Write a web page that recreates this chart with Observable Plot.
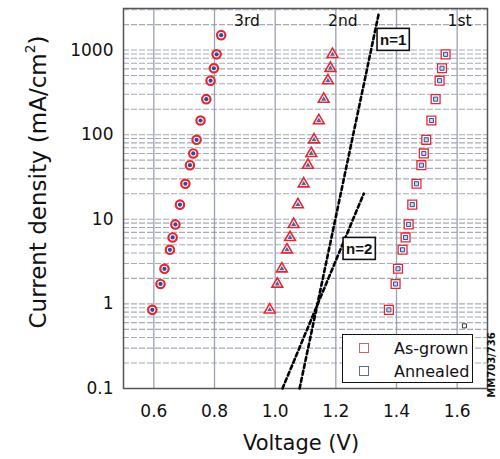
<!DOCTYPE html>
<html>
<head>
<meta charset="utf-8">
<script src="https://cdn.jsdelivr.net/npm/d3@7"></script>
<script src="https://cdn.jsdelivr.net/npm/@observablehq/plot@0.6"></script>
<style>
  body { margin: 0; background: #fff; }
  #wrap { position: relative; width: 500px; height: 459px; font-family: "DejaVu Sans", sans-serif; color: #111; }
  .ov { position: absolute; white-space: nowrap; line-height: 1; }
  #ytitle { left: 37px; top: 182px; font-size: 23px; transform: translate(-50%, -50%) rotate(-90deg); }
  #ytitle sup { font-size: 0.6em; vertical-align: 0.75em; }
  #xtitle { left: 301px; top: 443px; font-size: 21px; transform: translate(-50%, -50%); }
  #legend { left: 342px; top: 334px; width: 131px; height: 49px; border: 1.3px solid #111; background: #fff; box-sizing: border-box; }
  .lgsw { position: absolute; left: 16px; width: 10px; height: 10px; box-sizing: border-box; }
  .lgtx { position: absolute; left: 51px; font-size: 16px; transform: translateY(-50%); }
  #mm { left: 492px; top: 365px; font-size: 10px; font-weight: bold; transform: translate(-50%, -50%) rotate(-90deg); }
</style>
</head>
<body>
<div id="wrap"></div>
<script>
// ---- data ----
// 3rd sweep (circles)
const volts3 = [0.822, 0.807, 0.798, 0.787, 0.773, 0.754, 0.741, 0.730, 0.719, 0.704, 0.686, 0.671, 0.662, 0.653, 0.635, 0.622, 0.595];
const currents3 = [1500, 890, 610, 435, 263, 147, 87, 60, 43.6, 26.3, 14.9, 8.7, 6.1, 4.36, 2.6, 1.72, 0.85];
// 2nd sweep (triangles)
const volts2 = [1.189, 1.182, 1.174, 1.160, 1.144, 1.128, 1.119, 1.108, 1.094, 1.075, 1.061, 1.049, 1.039, 1.022, 1.007, 0.982];
const currents2 = [890, 610, 435, 263, 147, 87, 60, 43.6, 26.3, 14.9, 8.7, 6.1, 4.36, 2.6, 1.72, 0.85];
// 1st sweep (squares)
const volts1 = [1.562, 1.550, 1.542, 1.529, 1.515, 1.498, 1.490, 1.482, 1.466, 1.452, 1.440, 1.430, 1.420, 1.405, 1.397, 1.375];
const currents1 = [890, 610, 435, 263, 147, 87, 60, 43.6, 26.3, 14.9, 8.7, 6.1, 4.36, 2.6, 1.72, 0.85];
// stray annealed point
const extraVolts = [1.624];
const extraCurrents = [0.55];

// ideality reference lines
const idealityNames = ["n=1", "n=2"];
const idealityVolts = [[1.0805, 1.3426], [1.0241, 1.292]];
const idealityCurrents = [[0.1, 2820], [0.1, 20.1]];
const idealityLabelVolts = [1.389, 1.277];
const idealityLabelCurrents = [1313, 4.44];

// sweep labels
const sweepNames = ["3rd", "2nd", "1st"];
const sweepLabelVolts = [0.907, 1.223, 1.608];
const sweepLabelCurrents = [2200, 2200, 2200];

// axes
const xTicks = [0.6, 0.8, 1.0, 1.2, 1.4, 1.6];
const yTicks = [0.1, 1, 10, 100, 1000];
const gridMultipliers = [1, 2, 3, 4, 5, 6, 7, 8, 9];

// ---- build tables ----
const rows = (vs, js) => vs.map((v, i) => ({v, j: js[i]}));
const d3rd = rows(volts3, currents3);
const d2nd = rows(volts2, currents2);
const d1st = rows(volts1, currents1);
const dExtra = rows(extraVolts, extraCurrents);
const lineRows = idealityNames.flatMap((n, k) => idealityVolts[k].map((v, i) => ({n, v, j: idealityCurrents[k][i]})));
const nLabels = idealityNames.map((n, k) => ({n, v: idealityLabelVolts[k], j: idealityLabelCurrents[k]}));
const sLabels = sweepNames.map((n, k) => ({n, v: sweepLabelVolts[k], j: sweepLabelCurrents[k]}));
const yGrid = yTicks.flatMap(d => gridMultipliers.map(m => +(d * m).toPrecision(3))).filter(d => d <= 3100);

const RED = "#df2a33", BLUE = "#34479a";

const plot = Plot.plot({
  width: 500, height: 459,
  marginLeft: 123, marginRight: 13, marginTop: 8, marginBottom: 71,
  style: {fontFamily: "'DejaVu Sans', sans-serif", background: "#fff", color: "#111"},
  x: {domain: [0.5, 1.7]},
  y: {type: "log", domain: [0.1, 3100]},
  marks: [
    Plot.gridY(yGrid, {stroke: "#5c6280", strokeOpacity: 0.55, strokeWidth: 1.1, strokeDasharray: "6,2"}),
    Plot.gridX(xTicks, {stroke: "#8a90a8", strokeOpacity: 0.85, strokeWidth: 1.3}),
    Plot.frame({stroke: "#555", strokeWidth: 1.5}),
    Plot.axisX(xTicks, {tickSize: 0, tickPadding: 16, fontSize: 17, tickFormat: d3.format(".1f"), label: null}),
    Plot.axisY(yTicks, {tickSize: 0, tickPadding: 10, fontSize: 17, tickFormat: d => String(d), label: null}),
    Plot.line(lineRows, {x: "v", y: "j", z: "n", stroke: "#000", strokeWidth: 2.6, strokeDasharray: "4,3"}),
    // 3rd sweep: circles
    Plot.dot(d3rd, {x: "v", y: "j", r: 4.2, stroke: RED, strokeWidth: 2.2, fill: "#fff"}),
    Plot.dot(d3rd, {x: "v", y: "j", r: 2.1, fill: BLUE, stroke: "none"}),
    // 2nd sweep: triangles
    Plot.dot(d2nd, {x: "v", y: "j", symbol: "triangle", r: 4, stroke: RED, strokeWidth: 1.6, fill: "#fff"}),
    Plot.dot(d2nd, {x: "v", y: "j", symbol: "triangle", r: 1.9, fill: BLUE, fillOpacity: 0.85, stroke: "none"}),
    // 1st sweep: squares
    Plot.dot(d1st, {x: "v", y: "j", symbol: "square", r: 5, stroke: RED, strokeWidth: 1.3, fill: "#fff"}),
    Plot.dot(d1st, {x: "v", y: "j", symbol: "square", r: 2.3, stroke: BLUE, strokeWidth: 1, fill: "#d4d8ea"}),
    Plot.dot(dExtra, {x: "v", y: "j", symbol: "square", r: 2.3, stroke: "#333", strokeWidth: 1, fill: "#fff"}),
    Plot.text(sLabels, {x: "v", y: "j", text: "n", fontSize: 15.5, fill: "#111"}),
    Plot.text(nLabels, {x: "v", y: "j", text: "n", fontSize: 15, fontWeight: 600, fontFamily: "'Liberation Sans', Arial, sans-serif", fill: "#111"})
  ]
});

const wrap = document.getElementById("wrap");
wrap.appendChild(plot);

// boxes around the ideality labels (rect shares the text's transform)
d3.select(plot).selectAll("text").filter(function() { return idealityNames.includes(this.textContent); }).each(function() {
  const el = this;
  const b = el.getBBox();
  const padX = 3, padY = 3;
  const r = d3.select(el.parentNode).insert("rect", () => el)
    .attr("x", b.x - padX).attr("y", b.y - padY + 0.5)
    .attr("width", b.width + 2 * padX).attr("height", b.height + 2 * padY - 1)
    .attr("fill", "#fff").attr("stroke", "#111").attr("stroke-width", 1.6);
  const tf = el.getAttribute("transform");
  if (tf) r.attr("transform", tf);
});

// overlays: titles, legend, figure id
const yt = document.createElement("div"); yt.className = "ov"; yt.id = "ytitle";
yt.innerHTML = "Current density (mA/cm<sup>2</sup>)"; wrap.appendChild(yt);
const xt = document.createElement("div"); xt.className = "ov"; xt.id = "xtitle";
xt.textContent = "Voltage (V)"; wrap.appendChild(xt);

const legendItems = ["As-grown", "Annealed"];
const legendColors = ["#d4606e", "#5a6aa8"];
const lg = document.createElement("div"); lg.className = "ov"; lg.id = "legend";
legendItems.forEach((t, i) => {
  const cy = 13 + i * 23;
  const sw = document.createElement("div"); sw.className = "lgsw";
  sw.style.top = (cy - 5) + "px"; sw.style.border = "1px solid " + legendColors[i];
  const tx = document.createElement("div"); tx.className = "lgtx";
  tx.style.top = (cy + 1) + "px"; tx.textContent = t;
  lg.appendChild(sw); lg.appendChild(tx);
});
wrap.appendChild(lg);

const mm = document.createElement("div"); mm.className = "ov"; mm.id = "mm";
mm.textContent = "MM703/736"; wrap.appendChild(mm);
</script>
</body>
</html>
